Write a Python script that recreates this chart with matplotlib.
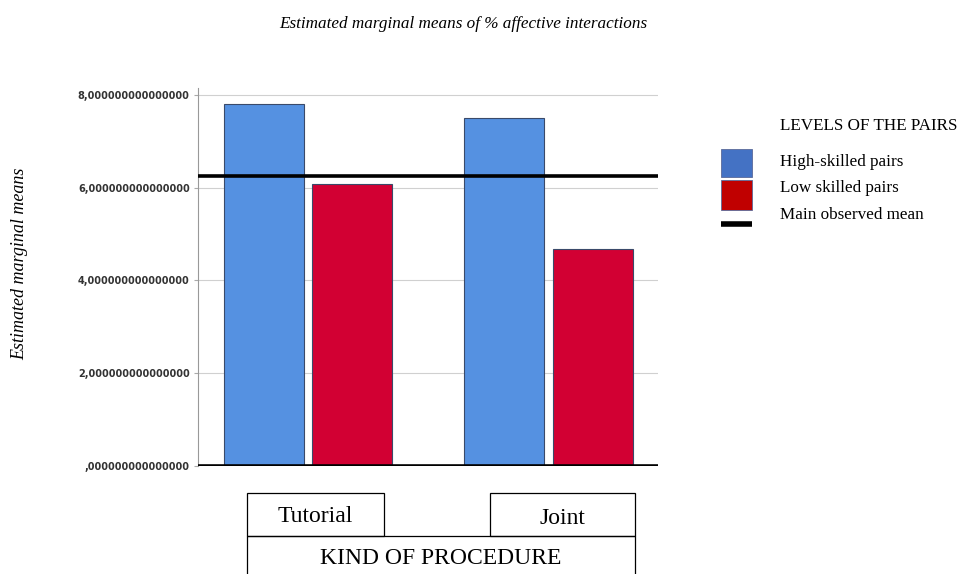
import matplotlib.pyplot as plt
from matplotlib.patches import Rectangle
from matplotlib.lines import Line2D
from matplotlib.ticker import FuncFormatter
import numpy as np

# data
procedures = ['Tutorial', 'Joint']
levels = ['High-skilled pairs', 'Low skilled pairs']
high_means = [7.80, 7.50]
low_means = [6.07, 4.68]
observed_mean = 6.24
y_ticks = [0, 2, 4, 6, 8]

SERIF = ['Liberation Serif', 'DejaVu Serif']
bar_blue = '#5591e1'
bar_red = '#d20033'

fig = plt.figure(figsize=(9.61, 5.74), dpi=100)
ax = fig.add_axes([0.206, 0.188, 0.479, 0.659])

x = np.arange(len(procedures))
w = 0.333
off = 0.185
ax.bar(x - off, high_means, width=w, color=bar_blue, edgecolor='#3a4a6a',
       linewidth=0.8, zorder=2)
ax.bar(x + off, low_means, width=w, color=bar_red, edgecolor='#3a4a6a',
       linewidth=0.8, zorder=2)
ax.axhline(observed_mean, color='black', linewidth=2.6, zorder=3)
ax.axhline(0, color='black', linewidth=2.6, zorder=3)

ax.set_xlim(-0.458, 1.458)
ax.set_ylim(0, 8.15)
ax.set_xticks([])
ax.set_yticks(y_ticks)
ax.yaxis.set_major_formatter(FuncFormatter(
    lambda v, p: (',' + '0' * 15) if v == 0 else '%d,%s' % (v, '0' * 15)))
ax.tick_params(axis='y', labelsize=7, labelcolor='#333333', length=3,
               color='#aaaaaa', pad=3)
for lab in ax.get_yticklabels():
    lab.set_fontweight('semibold')
ax.grid(axis='y', color='#d0d0d0', linewidth=0.8, zorder=0)
for s in ['top', 'right', 'bottom']:
    ax.spines[s].set_visible(False)
ax.spines['left'].set_color('#999999')
ax.spines['left'].set_linewidth(0.8)

# titles
fig.text(0.482, 0.958, 'Estimated marginal means of % affective interactions',
         ha='center', va='center', family=SERIF, style='italic', fontsize=12.3)
fig.text(0.021, 0.54, 'Estimated marginal means', rotation=90, ha='center',
         va='center', family=SERIF, style='italic', fontsize=13)

# legend drawn by hand
W, H = 961.0, 574.0


def fx(px):
    return px / W


def fy(py):
    return 1 - py / H


fig.text(fx(780), fy(126), 'LEVELS OF THE PAIRS', family=SERIF, fontsize=12.3,
         va='center')
fig.patches.append(Rectangle((fx(721), fy(177)), 31 / W, 28 / H,
                             transform=fig.transFigure, facecolor='#4472c4',
                             edgecolor='#5a6a9a', linewidth=0.6))
fig.patches.append(Rectangle((fx(721), fy(210)), 31 / W, 30 / H,
                             transform=fig.transFigure, facecolor='#c00000',
                             edgecolor='#5a6a9a', linewidth=0.6))
fig.lines.append(Line2D([fx(721), fx(752)], [fy(224), fy(224)],
                        transform=fig.transFigure, color='black', linewidth=4,
                        solid_capstyle='butt'))
for py, lab in zip([162, 188], levels):
    fig.text(fx(780), fy(py), lab, family=SERIF, fontsize=12.3, va='center')
fig.text(fx(780), fy(215), 'Main observed mean', family=SERIF, fontsize=12.3,
         va='center')

# category boxes under the axis
boxes = [(247, 384), (490, 635)]
for (x0, x1), name in zip(boxes, procedures):
    fig.patches.append(Rectangle((fx(x0), fy(536)), (x1 - x0) / W, 43 / H,
                                 transform=fig.transFigure, facecolor='none',
                                 edgecolor='black', linewidth=0.9))
fig.text(fx(315), fy(516), procedures[0], family=SERIF, fontsize=17,
         ha='center', va='center')
fig.text(fx(562), fy(518), procedures[1], family=SERIF, fontsize=17,
         ha='center', va='center')
fig.patches.append(Rectangle((fx(247), fy(580)), 388 / W, 44 / H,
                             transform=fig.transFigure, facecolor='none',
                             edgecolor='black', linewidth=0.9, clip_on=False))
fig.text(fx(441), fy(558), 'KIND OF PROCEDURE', family=SERIF, fontsize=17,
         ha='center', va='center')

fig.savefig('out.png', dpi=100)
